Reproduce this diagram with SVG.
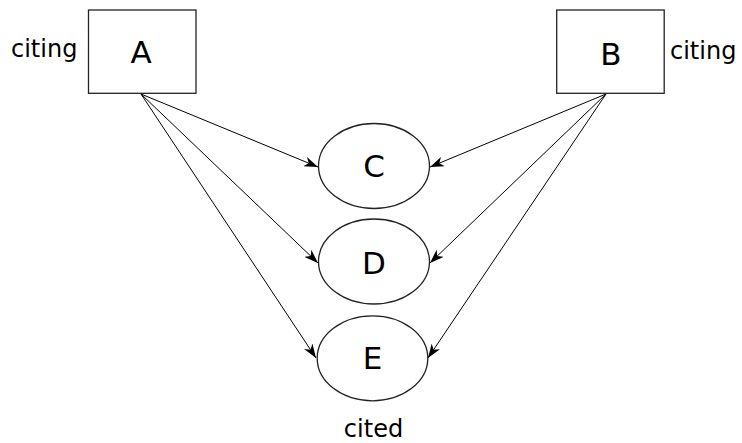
<svg xmlns="http://www.w3.org/2000/svg" width="742" height="443" viewBox="0 0 742 443">
<style>
.box{fill:#fff;stroke:#222;stroke-width:1.3}
.lbl{font-family:"DejaVu Sans",sans-serif;font-size:31px;fill:#000;text-anchor:middle}
.note{font-family:"DejaVu Sans",sans-serif;font-size:24px;fill:#000}
.edge{stroke:#000;stroke-width:1;fill:none;marker-end:url(#arr)}
</style>
<defs>
<marker id="arr" viewBox="0 0 14 10" refX="14" refY="5" markerWidth="14" markerHeight="10" markerUnits="userSpaceOnUse" orient="auto">
<path d="M0,0 L14,5 L0,10 L4,5 Z" fill="#000"/>
</marker>
</defs>
<g id="connectors">
<line class="edge" x1="141" y1="94" x2="318" y2="167"/>
<line class="edge" x1="141" y1="94" x2="318" y2="263"/>
<line class="edge" x1="141" y1="94" x2="316" y2="358"/>
<line class="edge" x1="606" y1="94" x2="430" y2="167"/>
<line class="edge" x1="606" y1="94" x2="430" y2="263"/>
<line class="edge" x1="606" y1="94" x2="428" y2="358"/>
</g>
<g id="A">
<rect class="box" x="88.5" y="10" width="107.5" height="83.3"/>
<text class="lbl" x="141" y="63">A</text>
<text class="note" x="11" y="57">citing</text>
</g>
<g id="B">
<rect class="box" x="556.7" y="10" width="107.5" height="83.3"/>
<text class="lbl" x="611" y="65">B</text>
<text class="note" x="670" y="59">citing</text>
</g>
<g id="C">
<ellipse class="box" cx="374" cy="166" rx="55.5" ry="42.5"/>
<text class="lbl" x="374" y="177">C</text>
</g>
<g id="D">
<ellipse class="box" cx="374" cy="261.5" rx="55.5" ry="42.5"/>
<text class="lbl" x="374" y="274">D</text>
</g>
<g id="E">
<ellipse class="box" cx="372.5" cy="358.3" rx="55.3" ry="42.5"/>
<text class="lbl" x="372.5" y="369">E</text>
<text class="note" x="373.5" y="437" text-anchor="middle">cited</text>
</g>
</svg>
